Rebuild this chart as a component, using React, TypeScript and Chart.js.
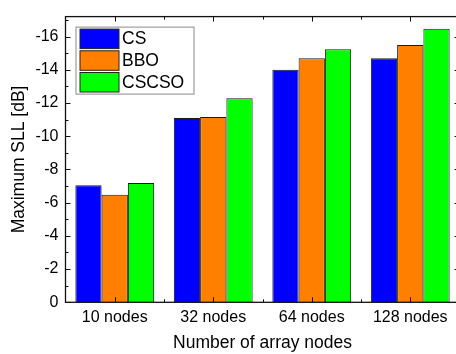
import React, { useEffect, useRef } from "react";
import { Chart, registerables } from "chart.js";

Chart.register(...registerables);

// Peak side-lobe level for each array size and optimiser
const categories = ["10 nodes", "32 nodes", "64 nodes", "128 nodes"];
const seriesNames = ["CS", "BBO", "CSCSO"];
const csValues = [-7.05, -11.1, -14.0, -14.7];
const bboValues = [-6.47, -11.15, -14.7, -15.49];
const cscsoValues = [-7.18, -12.28, -15.24, -16.47];
const seriesColors = ["#0000ff", "#ff8000", "#00ff00"];

const yTicks = [0, -2, -4, -6, -8, -10, -12, -14, -16];
const yMinorTicks = [-1, -3, -5, -7, -9, -11, -13, -15, -17];
const yMin = -17.2;
const yMax = 0;

const FONT = "'Liberation Sans', Arial, sans-serif";

// Closed frame with inward-pointing major/minor ticks on all four sides
const frameTicks = {
  id: "frameTicks",
  afterDatasetsDraw(chart: any) {
    const { ctx, chartArea: a, scales } = chart;
    const xs = scales.x;
    const ys = scales.y;
    const seg = (x1: number, y1: number, x2: number, y2: number) => {
      ctx.moveTo(x1, y1);
      ctx.lineTo(x2, y2);
    };
    ctx.save();
    ctx.strokeStyle = "#111";
    ctx.lineWidth = 1;
    ctx.beginPath();
    const n = categories.length;
    for (let i = 0; i < n; i++) {
      const px = Math.round(xs.getPixelForValue(i)) + 0.5;
      seg(px, a.bottom, px, a.bottom - 5);
      seg(px, a.top, px, a.top + 5);
      if (i < n - 1) {
        const mx =
          Math.round((xs.getPixelForValue(i) + xs.getPixelForValue(i + 1)) / 2) + 0.5;
        seg(mx, a.bottom, mx, a.bottom - 3);
        seg(mx, a.top, mx, a.top + 3);
      }
    }
    for (const v of yTicks) {
      const py = Math.round(ys.getPixelForValue(v)) + 0.5;
      seg(a.left, py, a.left + 5, py);
      seg(a.right, py, a.right - 5, py);
    }
    for (const v of yMinorTicks) {
      const py = Math.round(ys.getPixelForValue(v)) + 0.5;
      seg(a.left, py, a.left + 3, py);
      seg(a.right, py, a.right - 3, py);
    }
    ctx.stroke();
    ctx.lineWidth = 1.3;
    ctx.strokeRect(a.left, a.top, a.right - a.left, a.bottom - a.top);
    ctx.restore();
  },
};

// Boxed legend in the upper-left corner of the plot
const boxLegend = {
  id: "boxLegend",
  afterDraw(chart: any) {
    const { ctx, chartArea: a } = chart;
    const bx = a.left + 10;
    const by = a.top + 10;
    const bw = 118;
    const rowH = 21.7;
    const bh = 67;
    ctx.save();
    ctx.fillStyle = "#fff";
    ctx.fillRect(bx, by, bw, bh);
    ctx.strokeStyle = "#8a8a8a";
    ctx.lineWidth = 1;
    ctx.strokeRect(bx + 0.5, by + 0.5, bw, bh);
    ctx.font = `17.5px ${FONT}`;
    ctx.textBaseline = "middle";
    ctx.textAlign = "left";
    chart.data.datasets.forEach((ds: any, i: number) => {
      const sx = bx + 4.5;
      const sy = by + 2.5 + i * rowH;
      ctx.fillStyle = ds.backgroundColor;
      ctx.fillRect(sx, sy, 39, 19.5);
      ctx.strokeStyle = "#222";
      ctx.strokeRect(sx, sy, 39, 19.5);
      ctx.fillStyle = "#000";
      ctx.fillText(ds.label, sx + 42, sy + 10.5);
    });
    ctx.restore();
  },
};

export default function App() {
  const canvasRef = useRef<HTMLCanvasElement>(null);

  useEffect(() => {
    if (!canvasRef.current) return;
    const values = [csValues, bboValues, cscsoValues];
    const chart = new Chart(canvasRef.current, {
      type: "bar",
      data: {
        labels: categories,
        datasets: seriesNames.map((name, i) => ({
          label: name,
          data: values[i],
          backgroundColor: seriesColors[i],
          borderColor: "#1a1a1a",
          borderWidth: 1,
          categoryPercentage: 0.8,
          barPercentage: 1,
        })),
      },
      options: {
        animation: false,
        responsive: false,
        devicePixelRatio: 1,
        layout: { padding: { top: 9.5, right: 2.5, left: 0, bottom: 0 } },
        plugins: {
          legend: { display: false },
          tooltip: { enabled: false },
        },
        scales: {
          x: {
            type: "category",
            offset: true,
            grid: { display: false, drawTicks: false },
            border: { display: false },
            ticks: {
              color: "#000",
              padding: 6,
              maxRotation: 0,
              font: { family: FONT, size: 16 },
            },
            title: {
              display: true,
              text: "Number of array nodes",
              color: "#000",
              padding: { top: 0, bottom: 0.5 },
              font: { family: FONT, size: 17.5 },
            },
            afterFit(scale: any) {
              scale.height = 51.7;
            },
          },
          y: {
            type: "linear",
            reverse: true,
            min: yMin,
            max: yMax,
            bounds: "data",
            grid: { display: false, drawTicks: false },
            border: { display: false },
            ticks: {
              color: "#000",
              padding: 7,
              includeBounds: false,
              font: { family: FONT, size: 16 },
              callback: (v: any) => String(v),
            },
            afterBuildTicks(scale: any) {
              scale.ticks = yTicks.map((v) => ({ value: v }));
            },
            title: {
              display: true,
              text: "Maximum SLL [dB]",
              color: "#000",
              padding: { top: 8.7, bottom: 0 },
              font: { family: FONT, size: 17.5 },
            },
            afterFit(scale: any) {
              scale.width = 65.5;
            },
          },
        },
      },
      plugins: [frameTicks, boxLegend],
    });
    return () => chart.destroy();
  }, []);

  return (
    <div
      style={{
        position: "fixed",
        left: 0,
        top: 0,
        width: 456,
        height: 354,
        overflow: "hidden",
        background: "#fff",
      }}
    >
      <canvas
        ref={canvasRef}
        width={462}
        height={354}
        style={{ display: "block", width: 462, height: 354 }}
      />
    </div>
  );
}
